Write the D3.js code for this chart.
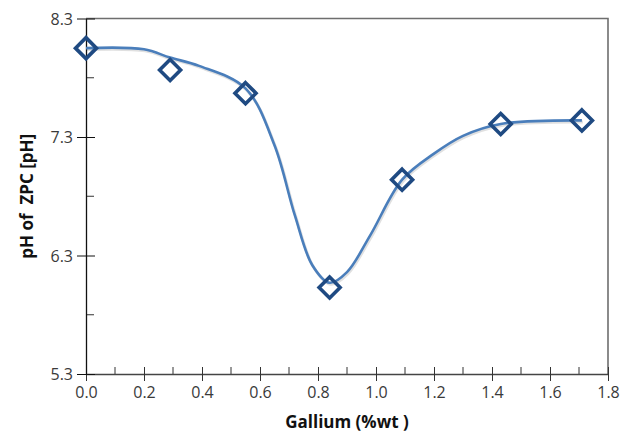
<!DOCTYPE html>
<html>
<head>
<meta charset="utf-8">
<script src="https://cdn.jsdelivr.net/npm/d3@7/dist/d3.min.js"></script>
<style>
  body { margin: 0; background: #fff; }
  text { font-family: "Open Sans", "Noto Sans", sans-serif; }
</style>
</head>
<body>
<div id="chart"></div>
<script>
// measured points (markers)
var galliumWt = [0.0, 0.29, 0.55, 0.84, 1.09, 1.43, 1.71];
var phZpc = [8.05, 7.865, 7.67, 6.03, 6.94, 7.41, 7.44];

// smooth trend line
var fitX = [0.0, 0.2, 0.29, 0.39, 0.55, 0.65, 0.72, 0.78, 0.84, 0.9, 0.98, 1.09, 1.2, 1.3, 1.43, 1.71];
var fitY = [8.05, 8.04, 7.97, 7.90, 7.71, 7.23, 6.64, 6.22, 6.07, 6.16, 6.47, 6.94, 7.16, 7.31, 7.41, 7.44];

var xTicks = [0, 0.2, 0.4, 0.6, 0.8, 1.0, 1.2, 1.4, 1.6, 1.8];
var xMinor = [0.1, 0.3, 0.5, 0.7, 0.9, 1.1, 1.3, 1.5, 1.7];
var yTicks = [5.3, 6.3, 7.3, 8.3];
var yMinor = [5.8, 6.8, 7.8];

var margin = {top: 18.5, right: 14, bottom: 61, left: 86};
var width = 622 - margin.left - margin.right,
    height = 435 - margin.top - margin.bottom;

var svg = d3.select("#chart").append("svg")
    .attr("width", 622)
    .attr("height", 435);

var g = svg.append("g")
    .attr("transform", "translate(" + margin.left + "," + margin.top + ")");

var x = d3.scaleLinear().domain([0, 1.8]).range([0, width]);
var y = d3.scaleLinear().domain([5.3, 8.3]).range([height, 0]);

// frame on top and right
g.append("path")
    .attr("d", "M0,0H" + width + "V" + height)
    .attr("fill", "none")
    .attr("stroke", "#6e6e6e")
    .attr("stroke-width", 1.6);

// minor ticks (inside)
g.selectAll(".xminor").data(xMinor).enter().append("line")
    .attr("x1", function(d) { return x(d); })
    .attr("x2", function(d) { return x(d); })
    .attr("y1", height).attr("y2", height - 7)
    .attr("stroke", "#333").attr("stroke-width", 1);

g.selectAll(".yminor").data(yMinor).enter().append("line")
    .attr("y1", function(d) { return y(d); })
    .attr("y2", function(d) { return y(d); })
    .attr("x1", 0).attr("x2", 8)
    .attr("stroke", "#333").attr("stroke-width", 1);

var xAxis = d3.axisBottom(x)
    .tickValues(xTicks)
    .tickSizeInner(7)
    .tickSizeOuter(0)
    .tickPadding(6)
    .tickFormat(d3.format(".1f"));

var yAxis = d3.axisLeft(y)
    .tickValues(yTicks)
    .tickSizeInner(9)
    .tickSizeOuter(0)
    .tickPadding(4)
    .tickFormat(d3.format(".1f"));

var xg = g.append("g")
    .attr("class", "axis x-axis")
    .attr("transform", "translate(0," + height + ")")
    .call(xAxis);

var yg = g.append("g")
    .attr("class", "axis y-axis")
    .call(yAxis);

xg.selectAll(".tick line").attr("y1", -7).attr("stroke", "#333");
yg.selectAll(".tick line").attr("x1", 9).attr("stroke", "#111");
xg.select(".domain").attr("stroke", "#444").attr("stroke-width", 1.3);
yg.select(".domain").attr("stroke", "#111").attr("stroke-width", 1.3);
xg.selectAll("text").attr("font-size", 16).attr("fill", "#3a3a3a");
yg.selectAll("text").attr("font-size", 16).attr("fill", "#3a3a3a").attr("dy", "0.36em");

// smooth line with soft shadow
var line = d3.line()
    .x(function(d) { return x(d[0]); })
    .y(function(d) { return y(d[1]); })
    .curve(d3.curveCatmullRom.alpha(0.5));

var fitData = fitX.map(function(d, i) { return [d, fitY[i]]; });

g.append("path")
    .datum(fitData)
    .attr("d", line)
    .attr("fill", "none")
    .attr("stroke", "rgba(0,0,0,0.12)")
    .attr("stroke-width", 3)
    .attr("transform", "translate(1,1.5)");

g.append("path")
    .datum(fitData)
    .attr("d", line)
    .attr("fill", "none")
    .attr("stroke", "#4a7ebb")
    .attr("stroke-width", 2.6);

// diamond markers
var r = 10.5;
g.selectAll(".marker")
    .data(galliumWt)
    .enter()
    .append("path")
    .attr("class", "marker")
    .attr("d", function(d, i) {
        var cx = x(d), cy = y(phZpc[i]);
        return "M" + cx + "," + (cy - r) + "L" + (cx + r) + "," + cy +
               "L" + cx + "," + (cy + r) + "L" + (cx - r) + "," + cy + "Z";
    })
    .attr("fill", "none")
    .attr("stroke", "#1f4a82")
    .attr("stroke-width", 3.6)
    .attr("stroke-linejoin", "miter");

// axis titles
svg.append("text")
    .attr("x", margin.left + width / 2)
    .attr("y", 428)
    .attr("text-anchor", "middle")
    .attr("font-size", 17)
    .attr("font-weight", "bold")
    .attr("fill", "#111")
    .text("Gallium (%wt )");

svg.append("text")
    .attr("transform", "translate(33," + (margin.top + height / 2) + ") rotate(-90)")
    .attr("text-anchor", "middle")
    .attr("font-size", 17)
    .attr("font-weight", "bold")
    .attr("fill", "#111")
    .attr("xml:space", "preserve")
    .text("pH of  ZPC [pH]");
</script>
</body>
</html>
